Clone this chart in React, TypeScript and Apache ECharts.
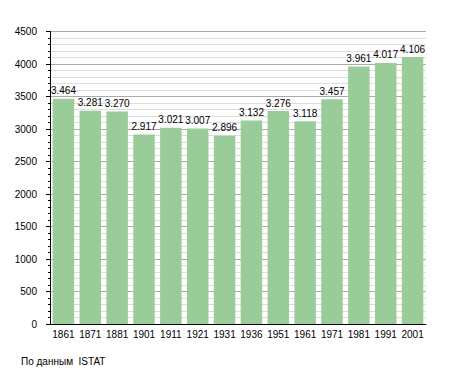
import React, { useEffect, useRef } from "react";
import * as echarts from "echarts";

const years = ["1861", "1871", "1881", "1901", "1911", "1921", "1931", "1936", "1951", "1961", "1971", "1981", "1991", "2001"];
const population = [3464, 3281, 3270, 2917, 3021, 3007, 2896, 3132, 3276, 3118, 3457, 3961, 4017, 4106];
const sourceText = "По данным  ISTAT";

const fmt = (v: number) => {
  const s = String(v);
  return s.length > 3 ? s.slice(0, s.length - 3) + "." + s.slice(-3) : s;
};

export default function App() {
  const ref = useRef<HTMLDivElement>(null);
  useEffect(() => {
    document.body.style.margin = "0";
    if (!ref.current) return;
    const chart = echarts.init(ref.current, null, { renderer: "svg" });
    const font = "Liberation Sans, Arial, sans-serif";
    chart.setOption({
      animation: false,
      backgroundColor: "#ffffff",
      grid: { left: 50, right: 29, top: 31.5, bottom: 49, containLabel: false },
      xAxis: {
        type: "category",
        data: years,
        axisLine: { show: true, lineStyle: { color: "#000", width: 1 } },
        axisTick: { show: false },
        axisLabel: { color: "#000", fontSize: 10, fontFamily: font, margin: 5, interval: 0 },
        splitLine: { show: false },
      },
      yAxis: {
        type: "value",
        min: 0,
        max: 4500,
        interval: 500,
        axisLine: { show: true, lineStyle: { color: "#000", width: 1 } },
        axisTick: { show: true, length: 4, inside: false, lineStyle: { color: "#000" } },
        minorTick: { show: true, splitNumber: 5, length: 2, lineStyle: { color: "#000" } },
        axisLabel: { color: "#000", fontSize: 10, fontFamily: font, margin: 13, formatter: (v: number) => String(v) },
        splitLine: { show: true, lineStyle: { color: "#aaaaaa", width: 1 } },
        minorSplitLine: { show: true, lineStyle: { color: "#dddddd", width: 1 } },
      },
      series: [
        {
          type: "bar",
          data: population,
          barCategoryGap: "20%",
          itemStyle: { color: "#99cc99" },
          label: {
            show: true,
            position: "top",
            distance: 3,
            color: "#000",
            fontSize: 10,
            fontFamily: font,
            formatter: (p: any) => fmt(p.value),
          },
        },
      ],
      graphic: [
        {
          type: "text",
          left: 21,
          top: 356,
          style: { text: sourceText, fill: "#000", fontSize: 10, fontFamily: font },
        },
      ],
    });
    return () => chart.dispose();
  }, []);
  return <div ref={ref} style={{ width: 455, height: 373 }} />;
}
